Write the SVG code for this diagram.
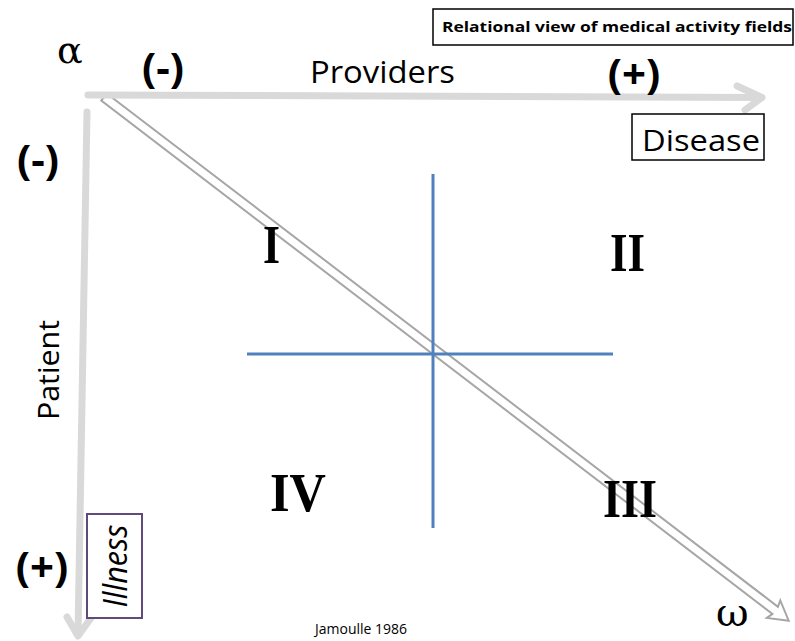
<svg xmlns="http://www.w3.org/2000/svg" width="795" height="641" viewBox="0 0 795 641">
<style>
.lbl{font-family:"Open Sans","Liberation Sans",sans-serif;fill:#000}
.b{font-weight:bold}
.par{font-family:"Open Sans","Liberation Sans",sans-serif;font-weight:bold;font-size:42px;fill:#000}
.rom{font-family:"Liberation Serif","DejaVu Serif",serif;font-weight:bold;font-size:54px;fill:#000}
.greek{font-family:"DejaVu Serif","Liberation Serif",serif;fill:#000}
.axis{stroke:#d9d9d9;stroke-width:7;fill:none;stroke-linecap:round;stroke-linejoin:round}
.cross{stroke:#4f81bd;stroke-width:3;fill:none}
</style>
<rect width="795" height="641" fill="#fff"/>
<g id="connectors">
  <g id="diagonal" transform="translate(104,97) rotate(37.41)">
    <path d="M0,-4.5 L845,-4.5 L843,-11 L862,0 L843,11 L845,4.5 L0,4.5 Z" fill="#fff" stroke="#a6a6a6" stroke-width="2" stroke-linejoin="miter"/>
  </g>
  <g id="providers-axis">
    <path class="axis" d="M88,95 L761,97.5"/>
    <path class="axis" d="M737,86 L762,97.5 L745,110"/>
  </g>
  <g id="patient-axis">
    <path class="axis" d="M87,112 L78,634"/>
    <path class="axis" d="M67,617 L78,636 L91,618"/>
  </g>
  <g id="quadrants">
    <path class="cross" d="M433,174 L433,528"/>
    <path class="cross" d="M247,354 L613,354"/>
  </g>
</g>
<g id="title">
  <rect x="433" y="9" width="360" height="36" fill="#fff" stroke="#000" stroke-width="1.5"/>
  <text class="lbl b" x="442" y="32" font-size="15" textLength="350" lengthAdjust="spacingAndGlyphs">Relational view of medical activity fields</text>
</g>
<g id="alpha"><text class="greek" x="57" y="63" font-size="38">α</text></g>
<g id="omega"><text class="greek" x="716" y="626" font-size="40">ω</text></g>
<g id="minus-top"><text class="par" x="163" y="83" text-anchor="middle">(-)</text></g>
<g id="providers"><text class="lbl" x="310" y="83" font-size="31" textLength="145" lengthAdjust="spacingAndGlyphs">Providers</text></g>
<g id="plus-top"><text class="par" x="634" y="89" text-anchor="middle">(+)</text></g>
<g id="disease">
  <rect x="632" y="114" width="132" height="46" fill="#fff" stroke="#000" stroke-width="1.5"/>
  <text class="lbl" x="642" y="151" font-size="29" textLength="118" lengthAdjust="spacingAndGlyphs">Disease</text>
</g>
<g id="minus-left"><text class="par" x="38" y="175" text-anchor="middle">(-)</text></g>
<g id="patient"><text class="lbl" transform="translate(59,370) rotate(-90)" font-size="29" text-anchor="middle" textLength="100" lengthAdjust="spacingAndGlyphs">Patient</text></g>
<g id="plus-left"><text class="par" x="42" y="582" text-anchor="middle">(+)</text></g>
<g id="illness">
  <rect x="87" y="514" width="55" height="104" fill="#fff" stroke="#604a7b" stroke-width="2"/>
  <text class="lbl" transform="translate(127,566) rotate(-90)" font-size="32" font-style="italic" text-anchor="middle" textLength="83" lengthAdjust="spacingAndGlyphs">Illness</text>
</g>
<g id="q1"><text class="rom" x="263" y="263" textLength="17" lengthAdjust="spacingAndGlyphs">I</text></g>
<g id="q2"><text class="rom" x="610" y="271" textLength="35" lengthAdjust="spacingAndGlyphs">II</text></g>
<g id="q3"><text class="rom" x="603" y="517" textLength="54" lengthAdjust="spacingAndGlyphs">III</text></g>
<g id="q4"><text class="rom" x="270" y="511" textLength="56" lengthAdjust="spacingAndGlyphs">IV</text></g>
<g id="credit"><text class="lbl" x="315" y="634" font-size="14">Jamoulle 1986</text></g>
</svg>
